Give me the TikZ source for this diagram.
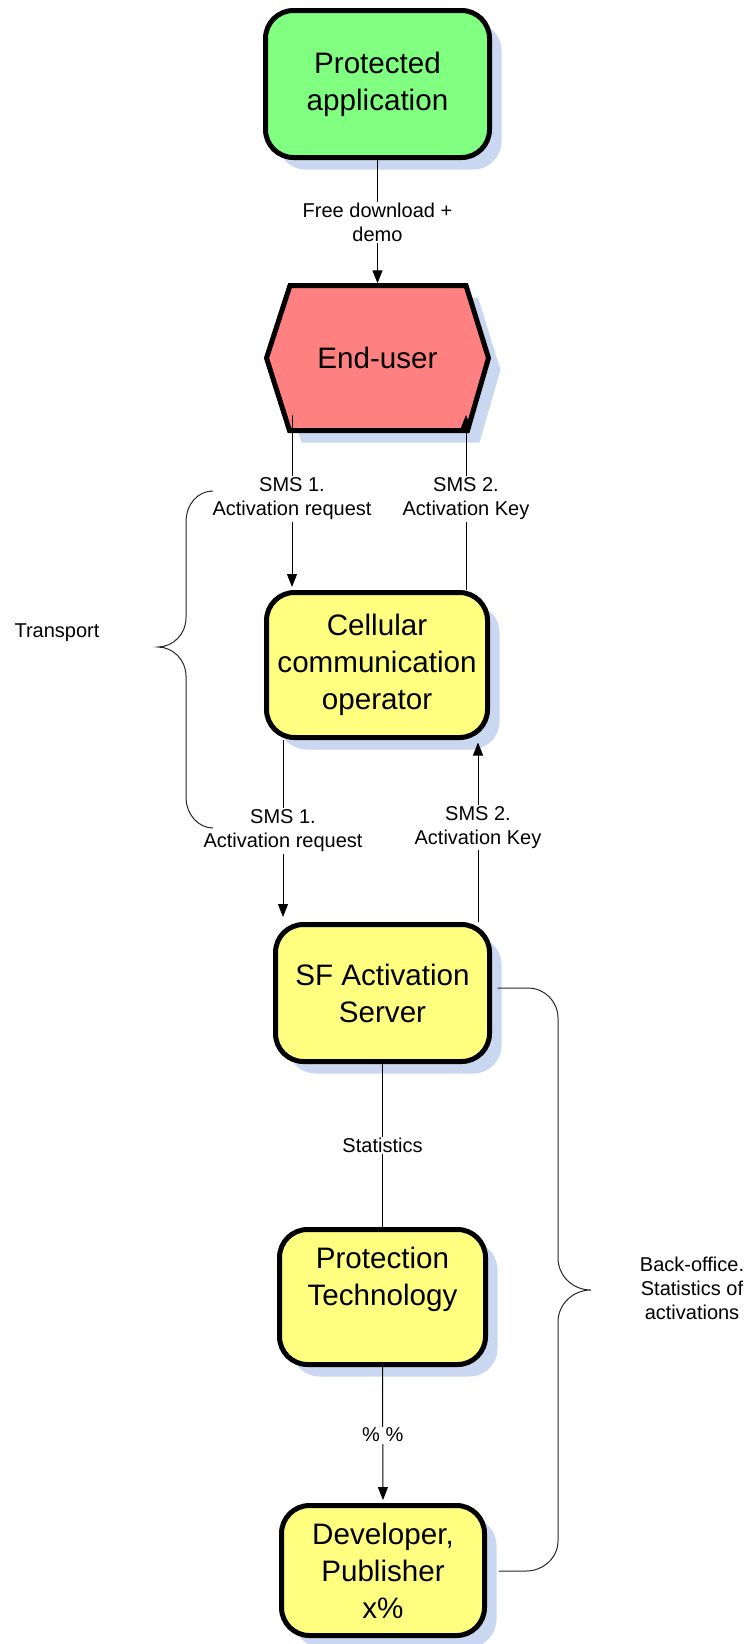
\documentclass[tikz,border=0pt]{standalone}
\usepackage{fontspec}
\setmainfont{Liberation Sans}
\usetikzlibrary{arrows.meta,shadows,calc}
\definecolor{gfill}{RGB}{128,255,128}
\definecolor{rfill}{RGB}{255,128,128}
\definecolor{yfill}{RGB}{255,255,128}
\definecolor{shadowc}{RGB}{202,215,240}
\begin{document}
\begin{tikzpicture}[x=1pt,y=-1pt,
  shad/.style={drop shadow={shadow xshift=12pt,shadow yshift=-12pt,fill=shadowc,opacity=1}},
  box/.style={draw=black,line width=5pt,rounded corners=28pt,align=center,inner sep=0pt,
    font=\fontsize{29.6}{37}\selectfont,shad},
  btext/.style={align=center,inner sep=0pt,font=\fontsize{29.6}{37}\selectfont},
  lbl/.style={fill=white,align=center,inner sep=1.5pt,font=\fontsize{20}{24}\selectfont},
  side/.style={align=center,inner sep=0pt,font=\fontsize{20}{24}\selectfont},
  conn/.style={line width=1pt,draw=black},
  arr/.style={conn,-{Triangle[length=13pt,width=10pt]}},
  brace/.style={line width=1pt,draw=black!85}]
\useasboundingbox (0,0) rectangle (748,1644);

% boxes
\node[box,fill=gfill,minimum width=224pt,minimum height=147pt] (pa) at (377.5,84) {Protected\\application};

\path[draw=black,line width=5pt,fill=rfill,line join=miter,shad]
  (290,285.5) -- (466,285.5) -- (488.5,358) -- (467.5,430.5) -- (289.5,430.5) -- (266.5,358) -- cycle;
\node[btext,minimum width=222pt,minimum height=145pt] (eu) at (377.5,358) {End-user};

\node[box,fill=yfill,minimum width=221pt,minimum height=145pt] (cell) at (377,665) {Cellular\\communication\\operator};
\node[box,fill=yfill,minimum width=214pt,minimum height=137pt] (sf) at (382.5,993) {SF Activation\\Server};
\node[box,fill=yfill,minimum width=206pt,minimum height=135pt] (pt) at (382.5,1297) {};
\node[btext] (ptt) at (382.5,1279) {Protection\\Technology};
\node[box,fill=yfill,minimum width=203pt,minimum height=130pt] (dev) at (383,1570.5) {Developer,\\Publisher\\x\%};

% connectors
\draw[arr,shorten >=2pt] (pa.south) -- (pa.south |- eu.north)
  node[lbl,midway] {Free download +\\demo};
\draw[arr,shorten >=3pt] ($(eu.center)+(-85.5,57)$) -- ($(cell.north)+(-85,0)$)
  node[lbl,pos=0.48] {SMS 1.\\Activation request};
\draw[arr] ($(cell.north)+(89,0)$) -- ($(eu.center)+(88.5,57)$)
  node[lbl,pos=0.52] {SMS 2.\\Activation Key};
\draw[arr,shorten >=5pt] ($(cell.south)+(-94,0)$) -- ($(sf.north)+(-99.5,0)$)
  node[lbl,pos=0.5] {SMS 1.\\Activation request};
\draw[arr,shorten >=2.5pt] ($(sf.north)+(95.5,0)$) -- ($(cell.south)+(101,0)$)
  node[lbl,pos=0.52] {SMS 2.\\Activation Key};
\draw[conn] (sf.south) -- (pt.north) node[lbl,midway] {Statistics};
\draw[arr,shorten >=3pt] (pt.south) -- (dev.north) node[lbl,midway] {\% \%};

% transport brace
\node[side] (tr) at (57,633) {Transport};
\draw[brace] (213,491) .. controls (198,491) and (186,504) .. (186,522) -- (186,618)
  .. controls (186,634) and (173,647) .. (158,647)
  .. controls (173,647) and (186,660) .. (186,676) -- (186,797)
  .. controls (186,814) and (198,828) .. (213,828);

% back-office brace
\node[side] (bo) at (692,1288) {Back-office.\\Statistics of\\activations};
\coordinate (b1) at ($(sf.east)+(5.5,-5)$);
\coordinate (b2) at ($(dev.east)+(11.5,0.5)$);
\draw[brace] (b1) -- (528,988) .. controls (544.5,988) and (558,1001.5) .. (558,1018) -- (558,1258)
  .. controls (558,1276) and (573,1290) .. (591,1290)
  .. controls (573,1290) and (558,1304) .. (558,1322) -- (558,1541)
  .. controls (558,1557.5) and (543.5,1571) .. (526,1571) -- (b2);
\end{tikzpicture}
\end{document}
